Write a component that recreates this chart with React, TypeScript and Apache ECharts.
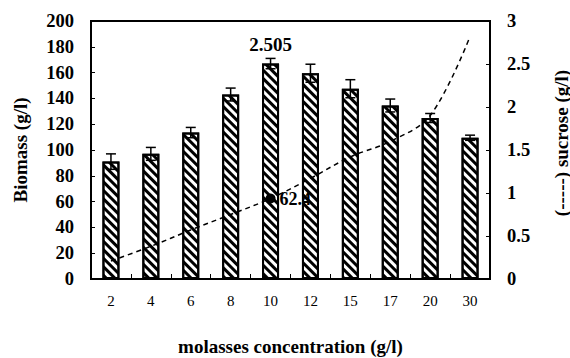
import React, { useEffect, useRef } from "react";
import * as echarts from "echarts";

// Molasses concentration (g/l)
const categories = ["2", "4", "6", "8", "10", "12", "15", "17", "20", "30"];
// Biomass (g/l) with standard deviation
const biomass = [91, 97, 113.5, 143, 167, 159.5, 147.5, 134.5, 124.8, 109.5];
const biomassErr = [6, 5, 4, 5, 4, 7, 7, 5, 3.5, 2];
// Residual sucrose (g/l)
const sucrose = [0.21, 0.38, 0.57, 0.75, 0.936, 1.17, 1.42, 1.6, 1.9, 2.82];
// Annotations
const barNotes = ["", "", "", "", "2.505", "", "", "", "", ""];
const peakIndex = 4;
const peakBiomass = 62.4;

const leftTicks = { min: 0, max: 200, interval: 20 };
const rightTicks = { min: 0, max: 3, interval: 0.5 };

const FONT = "Liberation Serif";

export default function App() {
  const ref = useRef<HTMLDivElement>(null);

  useEffect(() => {
    document.body.style.margin = "0";
    if (!ref.current) return;
    const chart = echarts.init(ref.current, undefined, { renderer: "svg" });

    const errData = biomass.map((v, i) => [i, v - biomassErr[i], v + biomassErr[i]]);
    const peakData = categories.map((_, i) => (i === peakIndex ? peakBiomass : null));

    const tickFont = { fontFamily: FONT, fontWeight: "bold", fontSize: 18.5, color: "#000" };
    const titleFont = { fontFamily: FONT, fontWeight: "bold", fontSize: 19, color: "#000" };

    chart.setOption({
      animation: false,
      backgroundColor: "#fff",
      textStyle: { fontFamily: FONT },
      grid: {
        left: 91,
        right: 80,
        top: 21,
        bottom: 79,
        outerBoundsMode: "none",
        containLabel: false,
        show: true,
        borderColor: "#000",
        borderWidth: 2,
        backgroundColor: "transparent",
      },
      graphic: [
        {
          type: "text",
          x: 561,
          y: 143,
          rotation: Math.PI / 2,
          style: {
            text: "(-----) sucrose (g/l)",
            fontFamily: FONT,
            fontWeight: "bold",
            fontSize: 19,
            fill: "#000",
            align: "center",
            verticalAlign: "middle",
          },
        },
      ],
      xAxis: {
        type: "category",
        data: categories,
        name: "molasses concentration (g/l)",
        nameLocation: "middle",
        nameGap: 58,
        nameTextStyle: titleFont,
        axisLine: { lineStyle: { color: "#000", width: 2 } },
        axisTick: { show: true, inside: true, length: 5, lineStyle: { color: "#000", width: 1 } },
        axisLabel: { fontFamily: FONT, fontSize: 15, color: "#000", margin: 14 },
      },
      yAxis: [
        {
          type: "value",
          ...leftTicks,
          name: "Biomass (g/l)",
          nameLocation: "middle",
          nameGap: 61,
          nameTextStyle: titleFont,
          axisLine: { show: true, lineStyle: { color: "#000", width: 2 } },
          axisTick: { show: true, inside: true, length: 4, lineStyle: { color: "#000", width: 1 } },
          axisLabel: { ...tickFont, margin: 17 },
          splitLine: { show: false },
        },
        {
          type: "value",
          ...rightTicks,
          position: "right",
          axisLine: { show: true, lineStyle: { color: "#000", width: 2 } },
          axisTick: { show: true, inside: true, length: 4, lineStyle: { color: "#000", width: 1 } },
          axisLabel: { ...tickFont, margin: 17 },
          splitLine: { show: false },
        },
      ],
      series: [
        {
          type: "bar",
          data: biomass,
          yAxisIndex: 0,
          barWidth: 17,
          itemStyle: {
            color: "#fff",
            borderColor: "#000",
            borderWidth: 2,
            decal: {
              symbol: "rect",
              color: "#000",
              backgroundColor: "#fff",
              dashArrayX: [1, 0],
              dashArrayY: [3, 3],
              rotation: Math.PI / 4,
            },
          },
          label: {
            show: true,
            position: "top",
            distance: 10,
            formatter: (p: any) => barNotes[p.dataIndex],
            fontFamily: FONT,
            fontWeight: "bold",
            fontSize: 19,
            color: "#000",
          },
          z: 2,
        },
        {
          type: "custom",
          yAxisIndex: 0,
          data: errData,
          z: 3,
          renderItem: (params: any, api: any) => {
            const x = api.value(0);
            const lo = api.coord([x, api.value(1)]);
            const hi = api.coord([x, api.value(2)]);
            const cap = 5;
            const style = { stroke: "#000", lineWidth: 1.5 };
            return {
              type: "group",
              children: [
                { type: "line", shape: { x1: lo[0], y1: lo[1], x2: hi[0], y2: hi[1] }, style },
                { type: "line", shape: { x1: hi[0] - cap, y1: hi[1], x2: hi[0] + cap, y2: hi[1] }, style },
                { type: "line", shape: { x1: lo[0] - cap, y1: lo[1], x2: lo[0] + cap, y2: lo[1] }, style },
              ],
            };
          },
        },
        {
          type: "line",
          yAxisIndex: 1,
          data: sucrose,
          smooth: 0.35,
          showSymbol: false,
          lineStyle: { color: "#000", width: 1.5, type: [5, 4] },
          z: 4,
        },
        {
          type: "scatter",
          yAxisIndex: 0,
          data: peakData,
          symbolSize: 10,
          itemStyle: { color: "#000", opacity: 1 },
          label: {
            show: true,
            position: "right",
            distance: 4,
            formatter: (p: any) => String(p.value),
            fontFamily: FONT,
            fontWeight: "bold",
            fontSize: 18,
            color: "#000",
          },
          z: 5,
        },
      ],
    });

    return () => chart.dispose();
  }, []);

  return <div ref={ref} style={{ width: 570, height: 358 }} />;
}
